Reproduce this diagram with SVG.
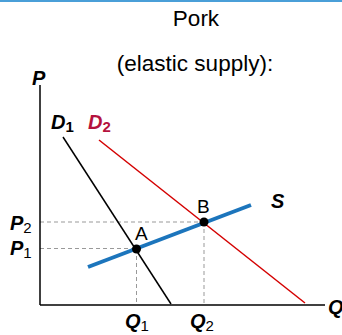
<svg xmlns="http://www.w3.org/2000/svg" width="342" height="335" viewBox="0 0 342 335">
<style>
text{font-family:"Liberation Sans",Arial,sans-serif;fill:#000}
.lbl{font-weight:bold;font-style:italic;font-size:20px}
.sub{font-size:15px;font-weight:normal;font-style:normal}
.bsub{font-size:15px;font-weight:bold;font-style:normal}
.pt{font-size:19px}
.ttl{font-size:22.5px;text-anchor:middle}
.dash{stroke:#999;stroke-width:1;stroke-dasharray:4 3;fill:none}
.axis{stroke:#000;stroke-width:1.5;fill:none}
</style>
<rect width="342" height="335" fill="#fff"/>
<line x1="0" y1="1" x2="342" y2="1" stroke="#4a9fd8" stroke-width="2"/>
<text class="ttl" x="196" y="26">Pork</text>
<text class="ttl" x="195" y="71">(elastic supply):</text>
<g id="connectors">
<line class="dash" x1="40" y1="222" x2="204" y2="222"/>
<line class="dash" x1="40" y1="248.5" x2="136.5" y2="248.5"/>
<line class="dash" x1="136.5" y1="249" x2="136.5" y2="305"/>
<line class="dash" x1="204" y1="222" x2="204" y2="305"/>
</g>
<g id="axes">
<line class="axis" x1="40" y1="85" x2="40" y2="305"/>
<line class="axis" x1="40" y1="305" x2="325" y2="305"/>
<text class="lbl" x="32" y="85">P</text>
<text class="lbl" x="328" y="314">Q</text>
</g>
<g id="D1">
<line x1="63" y1="137" x2="171" y2="304" stroke="#000" stroke-width="1.5"/>
<text class="lbl" x="51" y="129">D<tspan class="bsub" dy="3">1</tspan></text>
</g>
<g id="D2">
<line x1="99" y1="140" x2="305" y2="303" stroke="#d40000" stroke-width="1.5"/>
<text class="lbl" x="88" y="129" style="fill:#b5123e">D<tspan class="bsub" dy="3" style="fill:#b5123e">2</tspan></text>
</g>
<g id="S">
<line x1="88" y1="267" x2="251" y2="205" stroke="#1c75bc" stroke-width="4"/>
<text class="lbl" x="271" y="208">S</text>
</g>
<g id="A">
<circle cx="136.5" cy="249" r="4.5" fill="#000"/>
<text class="pt" x="135" y="240">A</text>
</g>
<g id="B">
<circle cx="204" cy="222" r="4.5" fill="#000"/>
<text class="pt" x="197" y="213">B</text>
</g>
<g id="ticks">
<text class="lbl" x="10" y="230">P<tspan class="sub" dy="3">2</tspan></text>
<text class="lbl" x="10" y="255">P<tspan class="sub" dy="3">1</tspan></text>
<text class="lbl" x="125" y="328">Q<tspan class="sub" dy="3">1</tspan></text>
<text class="lbl" x="190" y="328">Q<tspan class="sub" dy="3">2</tspan></text>
</g>
</svg>
